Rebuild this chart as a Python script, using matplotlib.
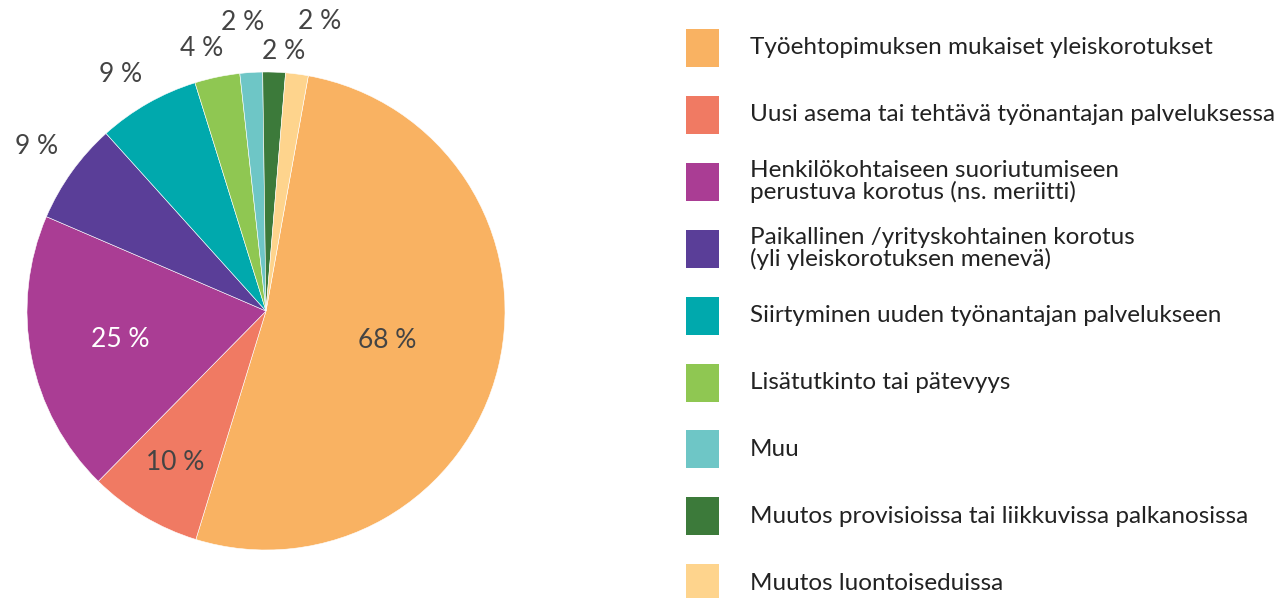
import numpy as np
import matplotlib
matplotlib.use("Agg")
import matplotlib.pyplot as plt
from matplotlib.patches import Rectangle

# categories in legend / clockwise order
categories = [
    "Työehtopimuksen mukaiset yleiskorotukset",
    "Uusi asema tai tehtävä työnantajan palveluksessa",
    "Henkilökohtaiseen suoriutumiseen\nperustuva korotus (ns. meriitti)",
    "Paikallinen /yrityskohtainen korotus\n(yli yleiskorotuksen menevä)",
    "Siirtyminen uuden työnantajan palvelukseen",
    "Lisätutkinto tai pätevyys",
    "Muu",
    "Muutos provisioissa tai liikkuvissa palkanosissa",
    "Muutos luontoiseduissa",
]
values = [68, 10, 25, 9, 9, 4, 2, 2, 2]
colors = ["#F9B262", "#F07A63", "#AA3D94", "#5A3E98", "#00A9AD",
          "#8FC752", "#6EC6C6", "#3C7A3A", "#FED48D"]

# label placement: distance from centre (radius units), angle nudge (deg), text colour
label_dist = [0.52, 0.74, 0.62, 1.18, 1.16, 1.13, 1.21, 1.09, 1.23]
label_nudge = [0, 0, 0, 0, 2, 2, 1, -2, -3]
label_col = ["#444444", "#444444", "white", "#444444", "#444444",
             "#444444", "#444444", "#444444", "#444444"]

W, H = 1287, 598
fig = plt.figure(figsize=(W / 100, H / 100), dpi=100)

# pie axes: centre (266, 311), radius 239 px
cx, cy, r = 266, 311, 239
ax = fig.add_axes([(cx - r) / W, (H - cy - r) / H, 2 * r / W, 2 * r / H])
wedges, _ = ax.pie(values, colors=colors, startangle=90 - 10.2,
                   counterclock=False, radius=1,
                   wedgeprops=dict(edgecolor="white", linewidth=0.4))
ax.set_xlim(-1, 1)
ax.set_ylim(-1, 1)
ax.set_aspect("equal")
ax.axis("off")

for w, v, d, n, c in zip(wedges, values, label_dist, label_nudge, label_col):
    ang = np.deg2rad((w.theta1 + w.theta2) / 2 + n)
    ax.text(d * np.cos(ang), d * np.sin(ang), f"{v} %", ha="center", va="center",
            fontsize=19, color=c, family="Lato", clip_on=False)

# legend drawn in pixel coordinates
lax = fig.add_axes([0, 0, 1, 1])
lax.set_xlim(0, W)
lax.set_ylim(H, 0)
lax.axis("off")
row0, step = 48, 66.9
for i, (lab, col) in enumerate(zip(categories, colors)):
    yc = row0 + i * step
    lax.add_patch(Rectangle((686, yc - 19), 33, 38, color=col, lw=0))
    lax.text(750, yc, lab, ha="left", va="center", fontsize=17.5,
             color="#222222", family="Lato", linespacing=1.0)

fig.savefig("out.png", dpi=100)
